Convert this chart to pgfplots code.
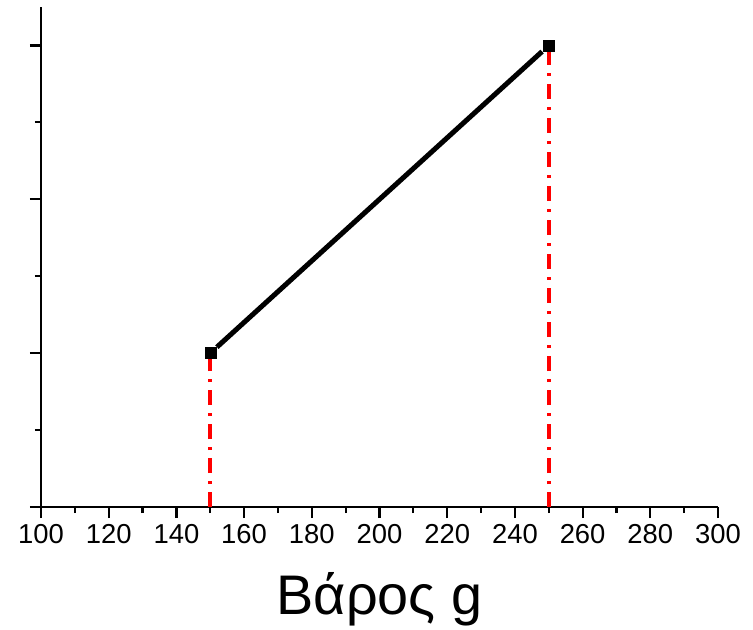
\documentclass[border=0pt]{standalone}
\usepackage{fontspec}
\setmainfont{Liberation Sans}
\usepackage{pgfplots}
\pgfplotsset{compat=1.18}
\begin{document}
\begin{tikzpicture}
\begin{axis}[
  at={(0,0)}, anchor=south west,
  scale only axis, width=677bp, height=500bp,
  xmin=100, xmax=300, ymin=0, ymax=3.25,
  axis lines*=left,
  axis line style={line width=2.6bp, -},
  xtick={100,120,...,300},
  minor x tick num=1,
  ytick={0,1,2,3},
  minor y tick num=1,
  yticklabels={},
  tick align=outside,
  major tick length=11bp, minor tick length=6bp,
  tick style={line width=2.2bp, black},
  /pgf/number format/assume math mode=true,
  ticklabel style={font=\fontsize{27.5}{32}\selectfont},
  xticklabel style={yshift=-3bp},
  xlabel={Βάρος g},
  xlabel style={font=\fontsize{56}{64}\selectfont, yshift=-22bp},
  clip=false,
]
\addplot[red, line width=3.6bp, dash pattern=on 15bp off 8bp on 3bp off 8bp] coordinates {(150,0) (150,1)};
\addplot[red, line width=3.6bp, dash pattern=on 15bp off 8bp on 3bp off 8bp] coordinates {(250,0) (250,3)};
\addplot[black, line width=5bp, shorten <=9bp, shorten >=9bp] coordinates {(150,1) (250,3)};
\addplot[only marks, mark=square*, mark size=5.5bp, black] coordinates {(150,1) (250,3)};
\end{axis}
\useasboundingbox (-41bp,-123bp) rectangle (712bp,507bp);
\end{tikzpicture}
\end{document}
